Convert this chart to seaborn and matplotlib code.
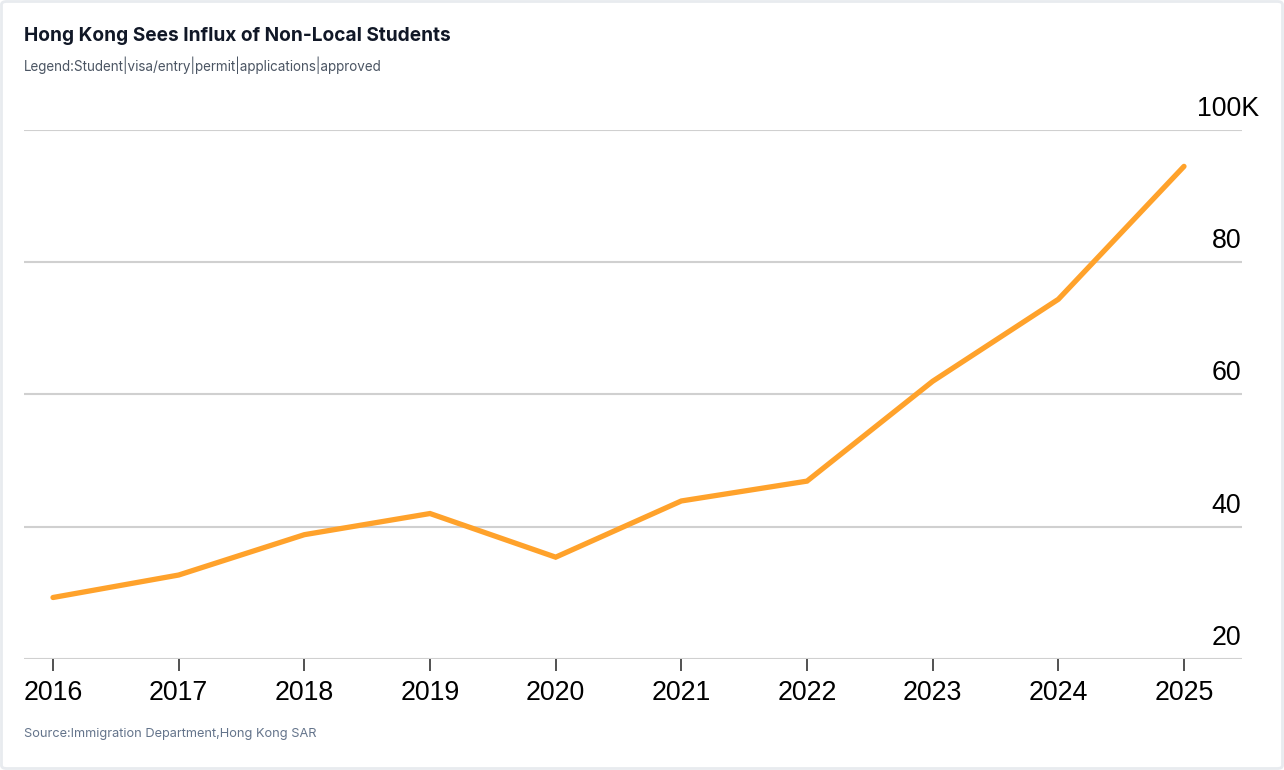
import matplotlib
matplotlib.use("Agg")
import matplotlib.pyplot as plt
import matplotlib.transforms as mtransforms
from matplotlib.patches import FancyBboxPatch
import seaborn as sns
import pandas as pd

years = [2016, 2017, 2018, 2019, 2020, 2021, 2022, 2023, 2024, 2025]
approved_k = [29.3, 32.7, 38.8, 42.0, 35.4, 43.9, 46.9, 62.0, 74.4, 94.5]
y_ticks = [20, 40, 60, 80, 100]
y_tick_labels = ["20", "40", "60", "80", "100K"]

title = "Hong Kong Sees Influx of Non-Local Students"
subtitle = "Legend:Student|visa/entry|permit|applications|approved"
source = "Source:Immigration Department,Hong Kong SAR"

df = pd.DataFrame({"year": years, "value": approved_k})

sns.set_theme(style="white")
plt.rcParams["font.family"] = ["Liberation Sans", "DejaVu Sans"]

W, H = 1284, 770
fig = plt.figure(figsize=(W / 100, H / 100), dpi=100)
fig.patch.set_facecolor("white")

# outer rounded border
border = FancyBboxPatch((1.5 / W, 1.5 / H), 1 - 3 / W, 1 - 3 / H,
                        boxstyle="round,pad=0,rounding_size=0.004",
                        transform=fig.transFigure, facecolor="none",
                        edgecolor="#e8ebef", linewidth=2)
fig.patches.append(border)

left, right = 24 / W, 1241.5 / W
bottom, top = 1 - 659 / H, 1 - 130 / H
ax = fig.add_axes([left, bottom, right - left, top - bottom])
ax.set_facecolor("none")

for t in y_ticks:
    ax.axhline(t, color="#d0d0d0", linewidth=1.5, zorder=1)

sns.lineplot(data=df, x="year", y="value", ax=ax, color="#ffa22b",
             linewidth=3.8, solid_capstyle="round", solid_joinstyle="miter",
             zorder=3)

x0 = years[0] - 29 / 125.67
x1 = years[-1] + 57.5 / 125.67
ax.set_xlim(x0, x1)
ax.set_ylim(20, 100)
ax.set_xlabel("")
ax.set_ylabel("")

for s in ax.spines.values():
    s.set_visible(False)

ax.set_xticks(years)
ax.set_xticklabels([str(y) for y in years])
ax.tick_params(axis="x", bottom=True, length=8.5, width=1.1, color="#222222",
               pad=6.5, labelsize=19.3, labelcolor="#000000")

ax.yaxis.tick_right()
ax.set_yticks(y_ticks)
ax.set_yticklabels(y_tick_labels)
ax.tick_params(axis="y", right=False, left=False, length=0, pad=0,
               labelsize=19.3, labelcolor="#000000")
offset = mtransforms.ScaledTranslation(0, 10.2 / 72, fig.dpi_scale_trans)
k_offset = mtransforms.ScaledTranslation(17.5 / 100, 0, fig.dpi_scale_trans)
labels = ax.get_yticklabels()
for i, lab in enumerate(labels):
    lab.set_horizontalalignment("right")
    lab.set_verticalalignment("baseline")
    tr = lab.get_transform() + offset
    if y_tick_labels[i].endswith("K"):
        tr = tr + k_offset
    lab.set_transform(tr)

fig.text(24 / W, 1 - 36 / H, title, fontsize=13.75, fontweight="bold",
         color="#111827", va="center", ha="left",
         family=["Inter", "DejaVu Sans"])
fig.text(24 / W, 1 - 65 / H, subtitle, fontsize=9.7, color="#4b5563",
         va="center", ha="left", family=["Inter", "DejaVu Sans"])
fig.text(24 / W, 1 - 734 / H, source, fontsize=9.2, color="#64748b",
         va="center", ha="left", family=["Inter", "DejaVu Sans"])

fig.savefig("out.png", dpi=100, facecolor="white")
